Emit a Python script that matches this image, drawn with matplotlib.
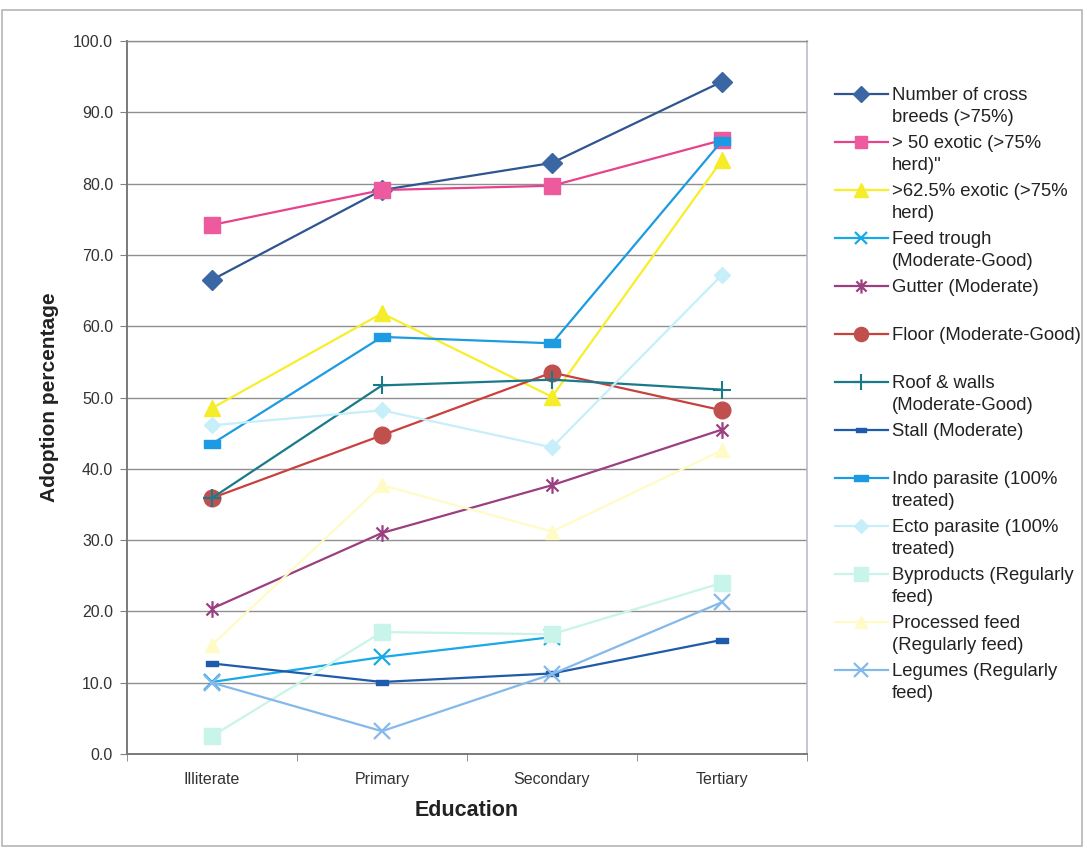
import numpy as np
import matplotlib
matplotlib.use("Agg")
import matplotlib.pyplot as plt
from matplotlib.path import Path
from matplotlib.lines import Line2D
from matplotlib.patches import Rectangle

plt.rcParams["font.family"] = ["Liberation Sans", "DejaVu Sans"]

categories = ["Illiterate", "Primary", "Secondary", "Tertiary"]

cross_breeds = [66.5, 79.1, 82.9, 94.3]
exotic_50 = [74.2, 79.1, 79.7, 86.1]
exotic_62 = [48.5, 61.8, 50.1, 83.3]
feed_trough = [10.1, 13.6, 16.4, np.nan]
gutter = [20.4, 31.0, 37.7, 45.5]
floor = [35.9, 44.7, 53.5, 48.2]
roof_walls = [35.9, 51.7, 52.5, 51.1]
stall = [12.7, 10.1, 11.3, 16.0]
indo_parasite = [43.5, 58.5, 57.6, 86.0]
ecto_parasite = [46.1, 48.2, 43.0, 67.2]
byproducts = [2.5, 17.1, 16.8, 24.0]
processed_feed = [15.3, 37.7, 31.2, 42.6]
legumes = [10.0, 3.2, 11.2, 21.3]

y_ticks = [0, 10, 20, 30, 40, 50, 60, 70, 80, 90, 100]

# custom marker shapes
star = Path([(0, -1), (0, 1), (-0.72, -0.72), (0.72, 0.72), (-0.72, 0.72), (0.72, -0.72)],
            [Path.MOVETO, Path.LINETO, Path.MOVETO, Path.LINETO, Path.MOVETO, Path.LINETO])
bar = Path([(-1, -0.45), (1, -0.45), (1, 0.45), (-1, 0.45), (-1, -0.45)],
           [Path.MOVETO, Path.LINETO, Path.LINETO, Path.LINETO, Path.CLOSEPOLY])

series = [
    ("Number of cross\nbreeds (>75%)", cross_breeds, "#2F5590", "#3A67A3", "D", 10, 1.0),
    ("> 50 exotic (>75%\nherd)\"", exotic_50, "#E9428C", "#EE5A9E", "s", 11, 1.0),
    (">62.5% exotic (>75%\nherd)", exotic_62, "#F8EE2A", "#F5EC2A", "^", 12, 1.0),
    ("Feed trough\n(Moderate-Good)", feed_trough, "#18A9E6", "#18A9E6", "x", 11, 1.6),
    ("Gutter (Moderate)", gutter, "#9A3F80", "#9A3F80", star, 12, 1.6),
    ("Floor (Moderate-Good)", floor, "#C8413D", "#C0504D", "o", 12, 1.0),
    ("Roof & walls\n(Moderate-Good)", roof_walls, "#1A7A8A", "#1A7A8A", "+", 13, 1.5),
    ("Stall (Moderate)", stall, "#1E5BAA", "#1E5BAA", bar, 8, 1.0),
    ("Indo parasite (100%\ntreated)", indo_parasite, "#1C9BE2", "#1C9BE2", bar, 12, 1.0),
    ("Ecto parasite (100%\ntreated)", ecto_parasite, "#C6EFFA", "#C6EFFA", "D", 8, 1.0),
    ("Byproducts (Regularly\nfeed)", byproducts, "#C8F4EA", "#C8F4EA", "s", 12, 1.0),
    ("Processed feed\n(Regularly feed)", processed_feed, "#FFFBC6", "#FFFBC6", "^", 10, 1.0),
    ("Legumes (Regularly\nfeed)", legumes, "#84B9EA", "#84B9EA", "x", 12, 1.6),
]

W, H = 1087, 850
fig = plt.figure(figsize=(W / 100, H / 100), dpi=100)
fig.patch.set_facecolor("white")

def fx(px):
    return px / W

def fy(py):
    return 1 - py / H

# chart frame
fig.patches.append(Rectangle((fx(2), fy(846)), fx(1082) - fx(2), fy(10) - fy(846),
                             transform=fig.transFigure, fill=False,
                             edgecolor="#B5B5B5", linewidth=1.2))

ax = fig.add_axes([fx(127), fy(754), fx(807) - fx(127), fy(41) - fy(754)])
x = np.arange(len(categories))

for label, vals, lc, mc, mk, ms, mew in series:
    ax.plot(x, vals, color=lc, linewidth=1.6, marker=mk, markersize=ms,
            markerfacecolor=mc, markeredgecolor=mc, markeredgewidth=mew,
            zorder=3)

ax.set_xlim(-0.5, len(categories) - 0.5)
ax.set_ylim(0, 100)
ax.set_yticks(y_ticks)
ax.set_yticklabels([f"{v:.1f}" for v in y_ticks], fontsize=11.5, color="#333333")
ax.set_xticks(x)
ax.set_xticklabels(categories, fontsize=11.5, color="#333333")
ax.tick_params(axis="x", which="major", length=0, pad=13)
ax.set_xticks(np.arange(-0.5, len(categories), 1.0), minor=True)
ax.tick_params(axis="x", which="minor", length=5, color="#808080", direction="out")
ax.tick_params(axis="y", length=5, color="#808080", direction="out", pad=5)

ax.grid(axis="y", color="#8F8F8F", linewidth=1.0, zorder=0)
ax.set_axisbelow(True)
for side in ("left", "bottom"):
    ax.spines[side].set_color("#7A7A7A")
    ax.spines[side].set_linewidth(1.4)
ax.spines["right"].set_color("#B8BEC8")
ax.spines["right"].set_linewidth(1.2)
ax.spines["top"].set_color("#8F8F8F")
ax.spines["top"].set_linewidth(1.0)

ax.set_ylabel("Adoption percentage", fontsize=15, fontweight="bold",
              color="#222222", labelpad=10)
ax.set_xlabel("Education", fontsize=15.5, fontweight="bold",
              color="#222222", labelpad=9)

# legend, one entry per series, first text line level with the handle
y0, step, line_h = 94, 48, 22
for i, (label, vals, lc, mc, mk, ms, mew) in enumerate(series):
    yc = y0 + i * step
    fig.add_artist(Line2D([fx(835), fx(888)], [fy(yc), fy(yc)], color=lc,
                          linewidth=1.6, transform=fig.transFigure))
    fig.add_artist(Line2D([fx(861)], [fy(yc)], color=lc, marker=mk,
                          markersize=ms * 0.85, markerfacecolor=mc, markeredgecolor=mc,
                          markeredgewidth=mew, transform=fig.transFigure))
    for j, part in enumerate(label.split("\n")):
        fig.text(fx(892), fy(yc + 6 + j * line_h), part, fontsize=13.3,
                 color="#222222", va="baseline", ha="left")

fig.savefig("out.png", dpi=100, facecolor="white")
